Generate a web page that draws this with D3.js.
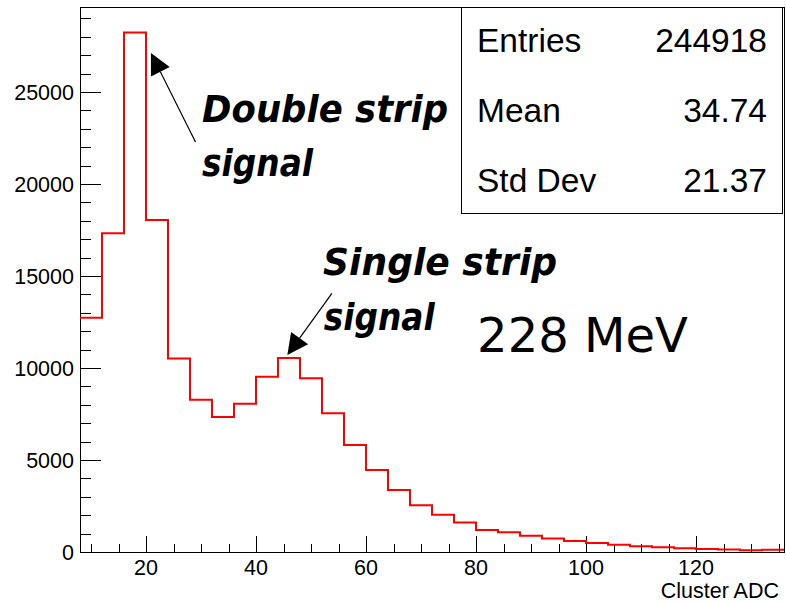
<!DOCTYPE html>
<html>
<head>
<meta charset="utf-8">
<script src="https://cdn.jsdelivr.net/npm/d3@7"></script>
<style>
  html, body { margin: 0; padding: 0; background: #fff; }
  svg { display: block; }
  .tick-label { font-family: "Liberation Sans", Arial, sans-serif; font-size: 21.5px; fill: #000; }
  .stats { font-family: "Liberation Sans", Arial, sans-serif; font-size: 33.5px; fill: #000; }
  .note { font-family: "DejaVu Sans", sans-serif; font-weight: bold; font-style: italic; font-size: 38px; fill: #000; }
</style>
</head>
<body>
<svg id="chart" width="786" height="602"></svg>
<script>
// histogram range and binning (Cluster ADC)
var xMin = 8, xMax = 136, binWidth = 4;

// bin contents, one per 4-ADC bin from 8 to 136
var counts = [12730, 17320, 28240, 18040, 10510, 8280, 7340, 8060,
              9530, 10540, 9440, 7540, 5820, 4460, 3370, 2540,
              2030, 1610, 1200, 1070, 880, 730, 600, 490,
              400, 310, 255, 200, 165, 130, 95, 125];

var yMax = 29620;

// axis ticks
var xMajorTicks = [20, 40, 60, 80, 100, 120];
var yMajorTicks = [0, 5000, 10000, 15000, 20000, 25000];

// stats box
var statNames  = ["Entries", "Mean", "Std Dev"];
var statValues = ["244918", "34.74", "21.37"];

// annotations
var noteTexts  = ["Double strip", "signal", "Single strip", "signal"];
var energyText = "228 MeV";

var svg = d3.select("#chart");

var frame = {left: 80, right: 784, top: 7, bottom: 552};

var x = d3.scaleLinear().domain([xMin, xMax]).range([frame.left, frame.right]);
var y = d3.scaleLinear().domain([0, yMax]).range([frame.bottom, frame.top]);

//Frame box
svg.append("rect")
	.attr("x", frame.left + 0.5).attr("y", frame.top + 0.5)
	.attr("width", frame.right - frame.left).attr("height", frame.bottom - frame.top)
	.attr("fill", "none").attr("stroke", "#000").attr("stroke-width", 1);

//Ticks - ROOT style, drawn inwards from the axis
var xMinor = d3.range(10, xMax, 5).filter(function(v){ return xMajorTicks.indexOf(v) < 0; });
var yMinor = d3.range(0, yMax, 1000).filter(function(v){ return v % 5000 != 0; });

var ticks = svg.append("g").attr("stroke", "#000").attr("stroke-width", 1);
ticks.selectAll("line.xmaj").data(xMajorTicks).enter().append("line")
	.attr("x1", function(d){ return Math.round(x(d)) + 0.5; })
	.attr("x2", function(d){ return Math.round(x(d)) + 0.5; })
	.attr("y1", frame.bottom).attr("y2", frame.bottom - 16);
ticks.selectAll("line.xmin").data(xMinor).enter().append("line")
	.attr("x1", function(d){ return Math.round(x(d)) + 0.5; })
	.attr("x2", function(d){ return Math.round(x(d)) + 0.5; })
	.attr("y1", frame.bottom).attr("y2", frame.bottom - 8);
ticks.selectAll("line.ymaj").data(yMajorTicks).enter().append("line")
	.attr("y1", function(d){ return Math.round(y(d)) + 0.5; })
	.attr("y2", function(d){ return Math.round(y(d)) + 0.5; })
	.attr("x1", frame.left).attr("x2", frame.left + 21);
ticks.selectAll("line.ymin").data(yMinor).enter().append("line")
	.attr("y1", function(d){ return Math.round(y(d)) + 0.5; })
	.attr("y2", function(d){ return Math.round(y(d)) + 0.5; })
	.attr("x1", frame.left).attr("x2", frame.left + 11);

//Tick labels
svg.append("g").selectAll("text").data(xMajorTicks).enter().append("text")
	.attr("class", "tick-label")
	.attr("x", function(d){ return x(d); })
	.attr("y", frame.bottom + 23)
	.attr("text-anchor", "middle")
	.text(function(d){ return d; });
svg.append("g").selectAll("text").data(yMajorTicks).enter().append("text")
	.attr("class", "tick-label")
	.attr("x", frame.left - 6)
	.attr("y", function(d){ return y(d) + 7.5; })
	.attr("text-anchor", "end")
	.text(function(d){ return d; });

svg.append("text")
	.attr("class", "tick-label")
	.attr("x", 779).attr("y", 598)
	.attr("text-anchor", "end")
	.text("Cluster ADC");

//Histogram outline, step drawn from the bin edges
var pts = counts.map(function(c, i){ return [xMin + i * binWidth, c]; });
pts.push([xMax, counts[counts.length - 1]]);
var step = d3.line()
	.x(function(d){ return x(d[0]); })
	.y(function(d){ return y(d[1]); })
	.curve(d3.curveStepAfter);
svg.append("path")
	.datum(pts)
	.attr("d", step)
	.attr("fill", "none")
	.attr("stroke", "#ff0000")
	.attr("stroke-width", 2);

//Stats box
var box = {x: 461, y: 7, w: 321, h: 206};
svg.append("rect")
	.attr("x", box.x + 0.5).attr("y", box.y + 0.5)
	.attr("width", box.w).attr("height", box.h)
	.attr("fill", "#fff").attr("stroke", "#000").attr("stroke-width", 1);
var rows = svg.append("g").selectAll("g").data(statNames).enter().append("g")
	.attr("transform", function(d, i){ return "translate(0," + (52 + i * 70) + ")"; });
rows.append("text").attr("class", "stats")
	.attr("x", box.x + 16)
	.text(function(d){ return d; });
rows.append("text").attr("class", "stats")
	.attr("x", 767).attr("text-anchor", "end")
	.text(function(d, i){ return statValues[i]; });

//Arrows in data coordinates: [tailX, tailY, tipX, tipY]
var arrows = [[29.0, 22280, 20.9, 27120], [53.8, 14060, 45.7, 10700]];
var headLen = 21, headHalf = 10.5;
arrows.forEach(function(a){
	var x0 = x(a[0]), y0 = y(a[1]), x1 = x(a[2]), y1 = y(a[3]);
	var dx = x1 - x0, dy = y1 - y0, len = Math.sqrt(dx*dx + dy*dy);
	var ux = dx / len, uy = dy / len;
	var bx = x1 - ux * headLen, by = y1 - uy * headLen;
	svg.append("line")
		.attr("x1", x0).attr("y1", y0).attr("x2", bx).attr("y2", by)
		.attr("stroke", "#000").attr("stroke-width", 1.2);
	svg.append("path")
		.attr("d", "M" + x1 + "," + y1 +
			"L" + (bx - uy * headHalf) + "," + (by + ux * headHalf) +
			"L" + (bx + uy * headHalf) + "," + (by - ux * headHalf) + "Z")
		.attr("fill", "#000");
});

//Annotation text, anchored in data coordinates
var notePos = [[30.2, 23390, 246], [30.2, 20430, 111], [52.2, 15030, 234], [52.3, 12070, 111]];
svg.append("g").selectAll("text").data(noteTexts).enter().append("text")
	.attr("class", "note")
	.attr("x", function(d, i){ return x(notePos[i][0]); })
	.attr("y", function(d, i){ return y(notePos[i][1]); })
	.attr("textLength", function(d, i){ return notePos[i][2]; })
	.attr("lengthAdjust", "spacingAndGlyphs")
	.text(function(d){ return d; });

svg.append("text")
	.attr("x", x(80.2)).attr("y", y(10890))
	.attr("font-family", "DejaVu Sans, sans-serif")
	.attr("font-size", 48)
	.attr("fill", "#000")
	.text(energyText);
</script>
</body>
</html>
